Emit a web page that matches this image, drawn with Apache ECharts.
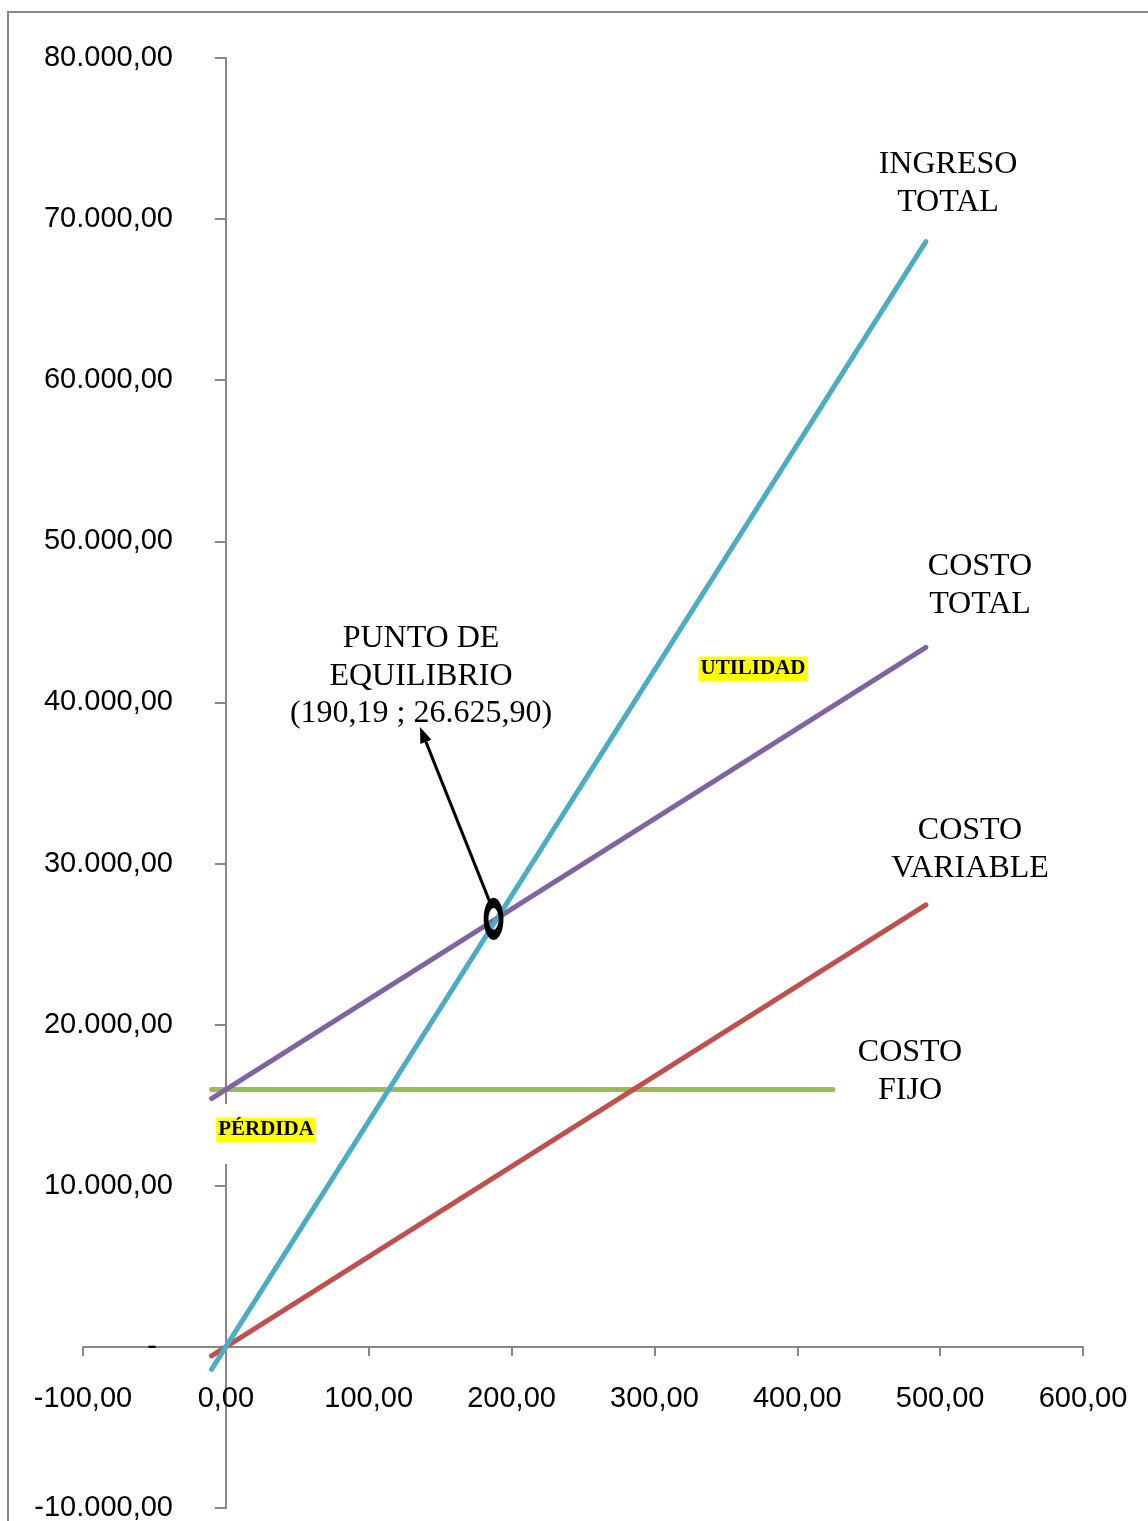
<!DOCTYPE html>
<html>
<head>
<meta charset="utf-8">
<title>Punto de equilibrio</title>
<script src="https://cdn.jsdelivr.net/npm/echarts@6/dist/echarts.min.js"></script>
<style>
	html, body { margin: 0; padding: 0; background: #fff; }
	#chart { width: 1148px; height: 1521px; }
</style>
</head>
<body>
<div id="chart"></div>
<script type="text/javascript">
	// datos
	var xTicks = [-100, 0, 100, 200, 300, 400, 500, 600];
	var yTicks = [-10000, 0, 10000, 20000, 30000, 40000, 50000, 60000, 70000, 80000];
	var unidades = [-10, 490];
	var ingresoTotal = [-1400, 68600];
	var costoTotal = [15416, 43416];
	var costoVariable = [-560, 27440];
	var unidadesFijo = [-10, 425];
	var costoFijo = [15976, 15976];
	var equilibrio = [190.19, 26625.90];

	function pares(xs, ys) {
		return xs.map(function (x, i) { return [x, ys[i]]; });
	}
	function fmtNum(v) {
		var neg = v < 0;
		var parts = Math.abs(v).toFixed(2).split('.');
		return (neg ? '-' : '') + parts[0].replace(/\B(?=(\d{3})+(?!\d))/g, '.') + ',' + parts[1];
	}

	var axisColor = '#878787';
	var sans = 'Liberation Sans';
	var serif = 'Liberation Serif';

	function linea(name, data, color) {
		return {
			name: name,
			type: 'line',
			data: data,
			showSymbol: false,
			silent: true,
			lineStyle: { color: color, width: 5, cap: 'round' },
			z: 3
		};
	}

	var chart = echarts.init(document.getElementById('chart'));
	chart.setOption({
		animation: false,
		backgroundColor: '#fff',
		grid: { left: 83, right: 65, top: 58, bottom: 13, containLabel: false, outerBoundsMode: 'none' },
		xAxis: {
			type: 'value',
			min: xTicks[0],
			max: xTicks[xTicks.length - 1],
			interval: 100,
			axisLine: { onZero: true, lineStyle: { color: axisColor, width: 2 } },
			axisTick: { show: true, length: 9, lineStyle: { color: axisColor, width: 2 } },
			splitLine: { show: false },
			axisLabel: {
				showMinLabel: true, showMaxLabel: true,
				margin: -124, color: '#000', fontFamily: sans, fontSize: 29,
				formatter: function (v) { return v.toFixed(2).replace('.', ','); }
			}
		},
		yAxis: {
			type: 'value',
			min: yTicks[0],
			max: yTicks[yTicks.length - 1],
			interval: 10000,
			axisLine: { onZero: true, lineStyle: { color: axisColor, width: 2 } },
			axisTick: { show: true, length: 11, lineStyle: { color: axisColor, width: 2 } },
			splitLine: { show: false },
			axisLabel: {
				showMinLabel: true, showMaxLabel: true,
				margin: -90, color: '#000', fontFamily: sans, fontSize: 29,
				formatter: function (v) { return v === 0 ? '{z|-}' : fmtNum(v); },
				rich: { z: { fontFamily: sans, fontSize: 29, color: '#000', padding: [0, 16, 0, 0] } }
			}
		},
		series: [
			linea('COSTO FIJO', pares(unidadesFijo, costoFijo), '#9BBB59'),
			linea('COSTO VARIABLE', pares(unidades, costoVariable), '#C0504D'),
			linea('COSTO TOTAL', pares(unidades, costoTotal), '#8064A2'),
			linea('INGRESO TOTAL', pares(unidades, ingresoTotal), '#4BACC6'),
			{
				name: 'PUNTO DE EQUILIBRIO',
				type: 'scatter',
				data: [equilibrio],
				symbol: 'circle',
				symbolSize: [15, 32],
				symbolOffset: [-4, 1],
				silent: true,
				itemStyle: { color: 'rgba(0,0,0,0)', borderColor: '#000', borderWidth: 7, opacity: 1 },
				z: 5
			}
		]
	});

	// anotaciones
	function texto(lines, cx, top) {
		return {
			type: 'text',
			z: 60,
			style: {
				text: lines.join('\n'),
				x: cx, y: top,
				align: 'center', verticalAlign: 'top',
				font: '32px "' + serif + '"',
				lineHeight: 37.5,
				fill: '#000'
			}
		};
	}
	function resaltado(label, cx, cy) {
		return {
			type: 'text',
			z: 61,
			style: {
				text: label,
				x: cx, y: cy,
				align: 'center', verticalAlign: 'middle',
				font: 'bold 21px "' + serif + '"',
				fill: '#000',
				backgroundColor: '#FFFF00',
				padding: [3, 2, 1, 2]
			}
		};
	}

	var pe = chart.convertToPixel({ gridIndex: 0 }, equilibrio);
	var start = [pe[0] - 7, pe[1] - 14];
	var tip = [420, 727];
	var dx = tip[0] - start[0], dy = tip[1] - start[1];
	var len = Math.sqrt(dx * dx + dy * dy);
	var ux = dx / len, uy = dy / len;
	var base = [tip[0] - ux * 16, tip[1] - uy * 16];
	var nx = -uy, ny = ux;

	var etiquetaPE = '(' + fmtNum(equilibrio[0]) + ' ; ' + fmtNum(equilibrio[1]) + ')';

	chart.setOption({
		graphic: [
			{
				type: 'rect', z: 0, silent: true,
				shape: { x: 8, y: 12, width: 1300, height: 1700 },
				style: { fill: 'none', stroke: '#868686', lineWidth: 2 }
			},
			{
				type: 'rect', z: 50, silent: true,
				shape: { x: 212, y: 1104, width: 108, height: 60 },
				style: { fill: '#fff' }
			},
			texto(['INGRESO', 'TOTAL'], 948, 146),
			texto(['COSTO', 'TOTAL'], 980, 548),
			texto(['COSTO', 'VARIABLE'], 970, 812),
			texto(['COSTO', 'FIJO'], 910, 1034),
			texto(['PUNTO DE', 'EQUILIBRIO', etiquetaPE], 421, 620),
			resaltado('UTILIDAD', 753, 669),
			resaltado('PÉRDIDA', 266, 1130),
			{
				type: 'line', z: 60, silent: true,
				shape: { x1: start[0], y1: start[1], x2: base[0], y2: base[1] },
				style: { stroke: '#000', lineWidth: 3 }
			},
			{
				type: 'polygon', z: 60, silent: true,
				shape: { points: [tip, [base[0] + nx * 6, base[1] + ny * 6], [base[0] - nx * 6, base[1] - ny * 6]] },
				style: { fill: '#000' }
			}
		]
	});
</script>
</body>
</html>
